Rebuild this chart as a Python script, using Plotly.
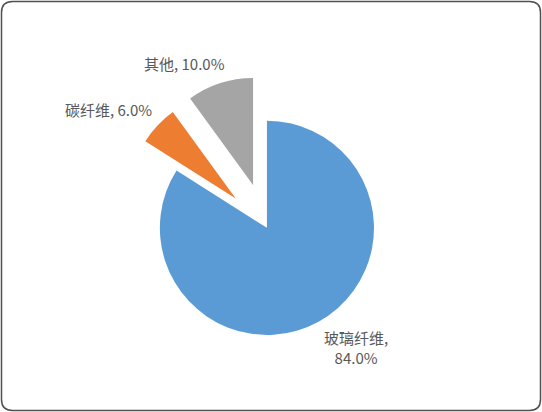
import plotly.graph_objects as go

# data
labels = ['玻璃纤维', '碳纤维', '其他']
values = [84.0, 6.0, 10.0]
colors = ['#5B9BD5', '#ED7D31', '#A5A5A5']
pulls = [0, 0.40, 0.42]

# label positions (paper coords, label centres) and line breaks
label_pos = [(0.657, 0.156), (0.201, 0.735), (0.341, 0.847)]
label_break = ['<br>', ' ', ' ']

W, H = 542, 412

fig = go.Figure(go.Pie(
    labels=labels,
    values=values,
    sort=False,
    direction='clockwise',
    rotation=0,
    pull=pulls,
    marker=dict(colors=colors, line=dict(width=0)),
    textinfo='none',
    hoverinfo='label+percent',
    domain=dict(x=[0.212, 0.773], y=[0.078, 0.816]),
    showlegend=False,
))

# data labels like the excel chart
for lab, val, (px_, py_), br in zip(labels, values, label_pos, label_break):
    fig.add_annotation(
        x=px_, y=py_, xref='paper', yref='paper',
        xanchor='center', yanchor='middle',
        text=lab + ',' + br + '%.1f%%' % val,
        showarrow=False, align='center',
        font=dict(family='Noto Sans CJK SC', size=15, color='#595959'),
    )

# rounded chart border
rx, ry = 11 / W, 11 / H
x0, x1 = 1.5 / W, 1 - 1.5 / W
y0, y1 = 1.5 / H, 1 - 1.5 / H
path = (f'M {x0+rx},{y0} L {x1-rx},{y0} Q {x1},{y0} {x1},{y0+ry} '
        f'L {x1},{y1-ry} Q {x1},{y1} {x1-rx},{y1} '
        f'L {x0+rx},{y1} Q {x0},{y1} {x0},{y1-ry} '
        f'L {x0},{y0+ry} Q {x0},{y0} {x0+rx},{y0} Z')
fig.add_shape(type='path', path=path, xref='paper', yref='paper',
              line=dict(color='#505050', width=1.5))

fig.update_layout(
    width=W, height=H,
    margin=dict(l=0, r=0, t=0, b=0),
    paper_bgcolor='white',
    plot_bgcolor='white',
)

fig.write_html("out.html", config={'displayModeBar': False},
               post_script="document.body.style.margin='0';")
